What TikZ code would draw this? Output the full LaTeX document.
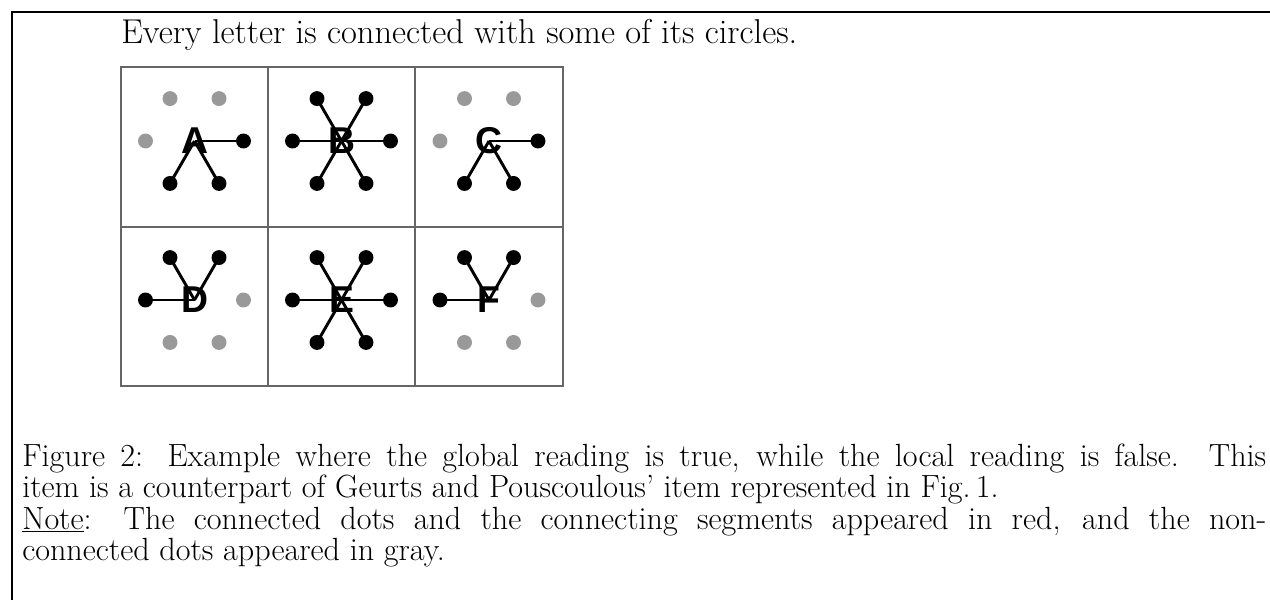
\documentclass[tikz,border=0pt]{standalone}
\usepackage{fontspec}
\usetikzlibrary{calc}
\newfontfamily\letfam{Liberation Sans}
\newlength\capw
\newlength\titw
\definecolor{dotgray}{gray}{0.6}
\definecolor{gridgray}{gray}{0.4}
\newcommand\capfont{\fontsize{\capfs pt}{24pt}\selectfont}
\newcommand\titfont{\fontsize{\titfs pt}{24pt}\selectfont}
\newcommand\letfont{\letfam\bfseries\fontsize{28pt}{30pt}\selectfont}
\tikzset{
  frameline/.style={draw=black, line width=1.1pt},
  gridline/.style={draw=gridgray, line width=1pt},
  letter/.style={inner sep=0pt, font=\letfont},
  bdot/.style={circle, fill=black, inner sep=0pt, minimum size=11.2pt},
  gdot/.style={circle, fill=dotgray, inner sep=0pt, minimum size=11.2pt},
  conn/.style={draw=black, line width=2.2pt},
  txt/.style={anchor=base west, inner sep=0pt, font=\capfont},
  titletxt/.style={anchor=base west, inner sep=0pt, font=\titfont}
}
\begin{document}
\settowidth{\capw}{\fontsize{22pt}{24pt}\selectfont item is a counterpart of Geurts and Pouscoulous’ item represented in Fig.\,1.}%
\pgfmathsetmacro\capfs{(813.75/\capw)*22*0.9}%
\settowidth{\titw}{\fontsize{22pt}{24pt}\selectfont Every letter is connected with some of its circles.}%
\pgfmathsetmacro\titfs{(507/\titw)*22}%
\begin{tikzpicture}[x=0.75pt,y=-0.75pt]
\useasboundingbox (0,0) rectangle (1270,600);
\fill[white] (0,0) rectangle (1270,600);
% frame
\draw[frameline] (1270,12) -- (12,12) -- (12,600);
% grid
\draw[gridline] (121,67) rectangle (563,386);
\draw[gridline] (268,67) -- (268,386);
\draw[gridline] (415,67) -- (415,386);
\draw[gridline] (121,227) -- (563,227);
% letters with their circles
\foreach \L/\cx/\cy in {A/194.5/141, C/489/141}{
  \node[letter] (\L) at (\cx,\cy) {\L};
  \foreach \a in {180,240,300}{\node[gdot] (\L\a) at ($(\L.center)+(\a:49)$) {};}
  \foreach \a in {0,60,120}{
    \node[bdot] (\L\a) at ($(\L.center)+(\a:49)$) {};
    \draw[conn] (\L.center) -- (\L\a.center);}
}
\foreach \L/\cx/\cy in {D/194.5/300, F/489/300}{
  \node[letter] (\L) at (\cx,\cy) {\L};
  \foreach \a in {0,60,120}{\node[gdot] (\L\a) at ($(\L.center)+(\a:49)$) {};}
  \foreach \a in {180,240,300}{
    \node[bdot] (\L\a) at ($(\L.center)+(\a:49)$) {};
    \draw[conn] (\L.center) -- (\L\a.center);}
}
\foreach \L/\cx/\cy in {B/341.5/141, E/341.5/300}{
  \node[letter] (\L) at (\cx,\cy) {\L};
  \foreach \a in {0,60,120,180,240,300}{
    \node[bdot] (\L\a) at ($(\L.center)+(\a:49)$) {};
    \draw[conn] (\L.center) -- (\L\a.center);}
}
% texts
\node[titletxt] (title) at (121,43) {Every letter is connected with some of its circles.};
\node[txt] (cap1) at (22,466) {\makebox[933pt][s]{Figure 2: Example where the global reading is true, while the local reading is false. This}};
\node[txt] (cap2) at (22,497.5) {item is a counterpart of Geurts and Pouscoulous’ item represented in Fig.\,1.};
\node[txt] (cap3) at (22,529) {\makebox[933pt][s]{\underline{Note}: The connected dots and the connecting segments appeared in red, and the non-}};
\node[txt] (cap4) at (22,560.5) {connected dots appeared in gray.};
\end{tikzpicture}
\end{document}
